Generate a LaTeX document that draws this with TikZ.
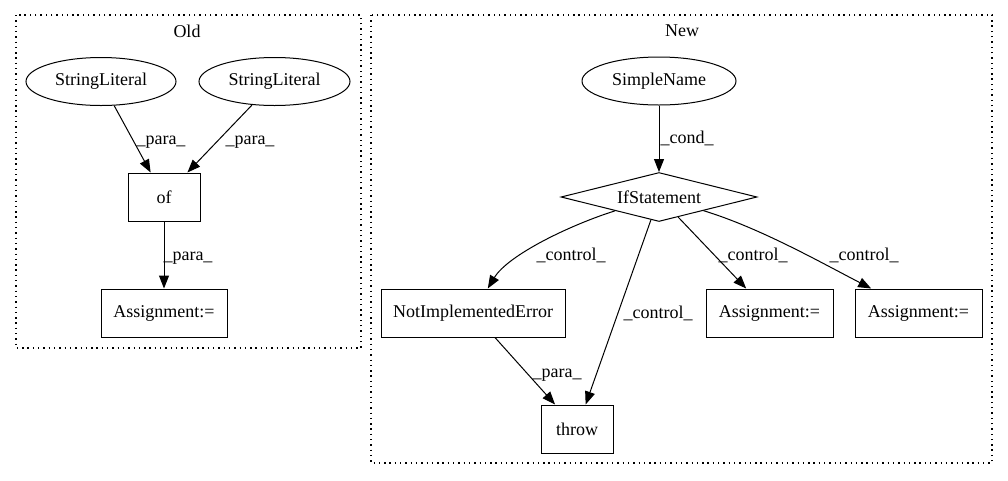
\documentclass[tikz,border=0pt]{standalone}
\usepackage{fontspec}
\setmainfont{Liberation Serif}
\usetikzlibrary{shapes.geometric,arrows.meta}
\begin{document}
\begin{tikzpicture}[x=1pt,y=-1pt,
 every node/.style={font=\fontsize{18}{20}\selectfont, inner sep=0pt},
 box/.style={draw, line width=1pt, rectangle, minimum height=48pt},
 ell/.style={draw, line width=1pt, ellipse, minimum height=48pt},
 dia/.style={draw, line width=1pt, diamond, shape aspect=4, minimum width=196pt, minimum height=49pt},
 conn/.style={draw, line width=1pt, -{Triangle[length=13pt,width=10pt]}},
 cluster/.style={draw, line width=1.2pt, dash pattern=on 1.4pt off 3.9pt}]
\useasboundingbox (0,0) rectangle (1008,480);
% clusters
\draw[cluster] (16,15) rectangle (361,348);
\node (oldlab) at (187,31) {Old};
\draw[cluster] (371,15) rectangle (992,463);
\node (newlab) at (682,31) {New};
% Old nodes
\node[ell, minimum width=150pt] (sl1) at (101,81.5) {StringLiteral};
\node[ell, minimum width=151pt] (sl2) at (274.5,81.5) {StringLiteral};
\node[box, minimum width=72pt] (of) at (164,197) {of};
\node[box, minimum width=126pt] (asg0) at (164,313) {Assignment:=};
% New nodes
\node[ell, minimum width=154pt] (sn) at (659,81) {SimpleName};
\node[dia] (if) at (659,197) {IfStatement};
\node[box, minimum width=184pt] (nie) at (473,313) {NotImplementedError};
\node[box, minimum width=72pt] (throw) at (577,429) {throw};
\node[box, minimum width=127pt] (asg1) at (769.5,313) {Assignment:=};
\node[box, minimum width=127pt] (asg2) at (918.5,313) {Assignment:=};
% Old edges
\draw[conn] (sl1) -- (of);
\node (l1) at (161,142) {\_para\_};
\draw[conn] (sl2) -- (of);
\node (l2) at (250,142) {\_para\_};
\draw[conn] (of) -- (asg0);
\node (l3) at (188,258) {\_para\_};
% New edges
\draw[conn] (sn) -- (if);
\node (l4) at (687,138) {\_cond\_};
\draw[conn] (if) .. controls (570,225) and (508,255) .. (nie);
\node (l5) at (571,255) {\_control\_};
\draw[conn] (if) -- (throw);
\node (l6) at (658,313) {\_control\_};
\draw[conn] (if) -- (asg1);
\node (l7) at (753,255) {\_control\_};
\draw[conn] (if) .. controls (760,228) and (820,262) .. (asg2);
\node (l8) at (864,255) {\_control\_};
\draw[conn] (nie) -- (throw);
\node (l9) at (557,375) {\_para\_};
\end{tikzpicture}
\end{document}
